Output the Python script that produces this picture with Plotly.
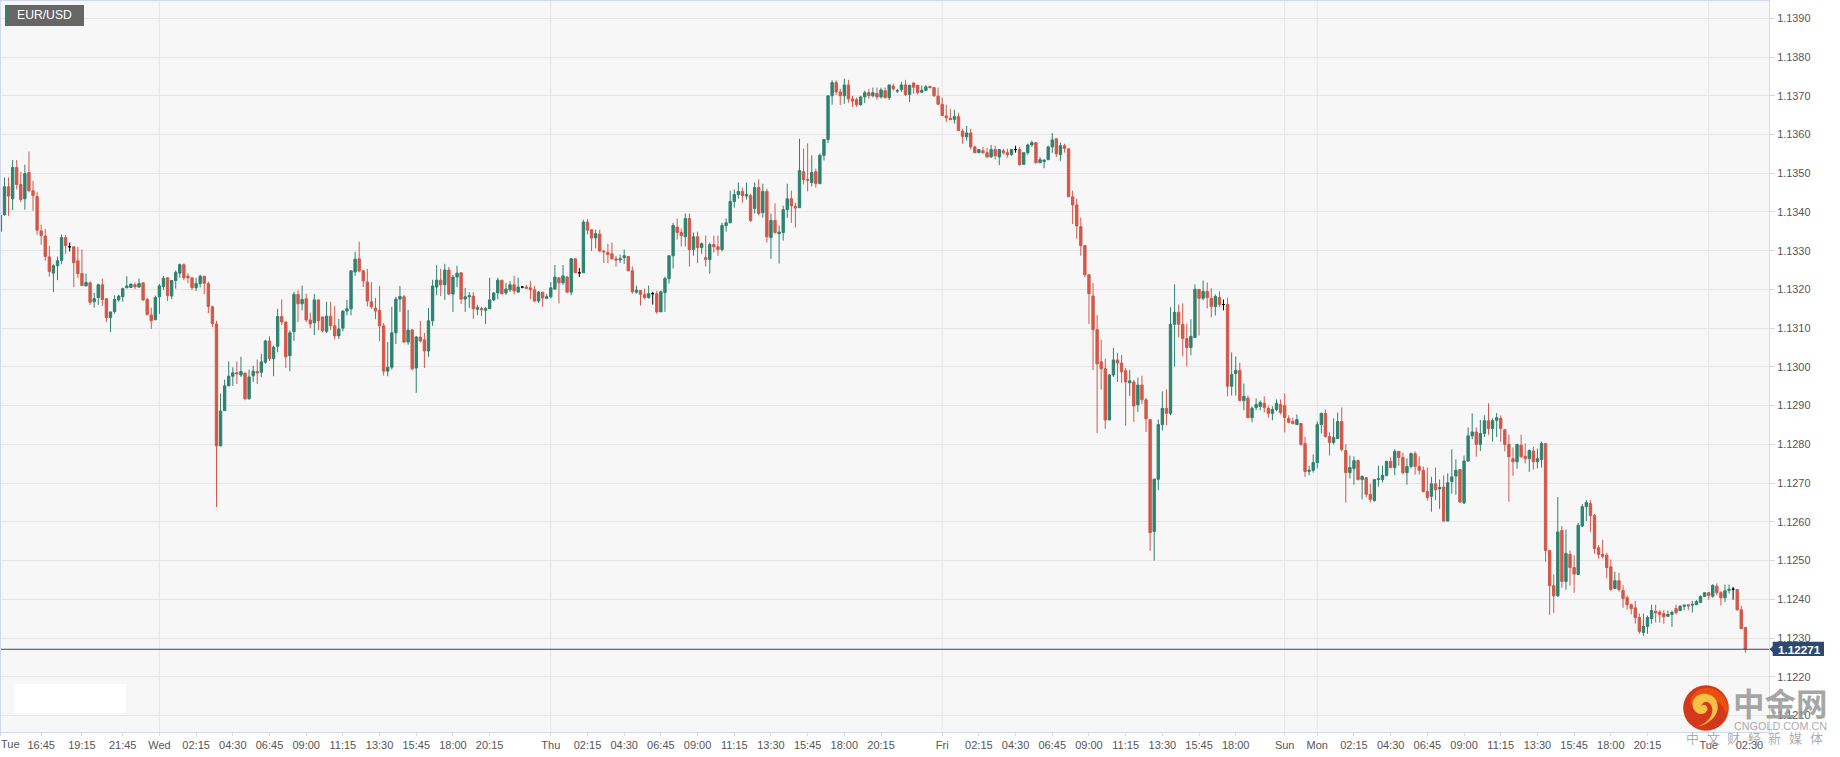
import plotly.graph_objects as go

PIP = 100000.0
open_pts = [
113350,113393,113465,113434,113515,113471,113434,113502,113455,113440,
113351,113338,113284,113242,113261,113275,113334,113310,113310,113274,
113241,113209,113217,113168,113179,113212,113176,113127,113143,113173,
113181,113204,113205,113212,113206,113217,113174,113134,113122,113181,
113207,113230,113183,113223,113242,113264,113234,113230,113204,113215,
113234,113215,113155,113111,112796,112887,112951,112976,112985,112979,
112984,112918,112977,112988,112986,113012,113067,113021,113053,113130,
113116,113029,113091,113187,113163,113176,113121,113114,113173,113129,
113092,113131,113106,113080,113100,113144,113150,113245,113279,113248,
113219,113168,113152,113146,113106,112989,112999,113088,113175,113181,
113064,113095,112997,113077,113070,113041,113119,113206,113224,113212,
113250,113188,113232,113243,113175,113181,113183,113149,113151,113146,
113150,113173,113191,113224,113191,113199,113212,113193,113206,113206,
113204,113199,113170,113193,113177,113181,113201,113230,113217,113232,
113193,113279,113243,113243,113374,113354,113333,113343,113299,113295,
113292,113279,113276,113282,113285,113248,113193,113197,113187,113179,
113189,113189,113142,113192,113228,113287,113361,113347,113336,113383,
113303,113336,113308,113282,113277,113316,113310,113303,113365,113372,
113427,113445,113453,113441,113442,113409,113463,113398,113453,113334,
113378,113344,113347,113406,113434,113415,113411,113504,113484,113476,
113504,113473,113546,113587,113700,113734,113710,113700,113728,113692,
113690,113677,113697,113708,113700,113706,113697,113713,113695,113725,
113712,113716,113728,113703,113733,113727,113709,113714,113724,113721,
113699,113678,113648,113642,113639,113646,113609,113594,113604,113568,
113553,113558,113553,113542,113561,113542,113558,113553,113548,113561,
113561,113523,113553,113573,113579,113527,113530,113535,113568,113589,
113548,113571,113563,113439,113418,113362,113313,113238,113183,113096,
113013,112995,112863,112979,113018,113010,112990,112959,112961,112902,
112953,112915,112864,112575,112710,112851,112893,112880,113110,113141,
113110,113073,113050,113076,113200,113177,113195,113177,113156,113179,
113161,113161,112950,112983,112991,112913,112919,112869,112895,112898,
112906,112893,112880,112890,112903,112900,112867,112859,112851,112854,
112802,112730,112733,112753,112851,112880,112820,112805,112815,112859,
112784,112727,112738,112758,112709,112714,112671,112655,112709,112709,
112720,112756,112740,112782,112766,112727,112743,112776,112743,112733,
112678,112666,112698,112685,112690,112602,112704,112718,112735,112649,
112757,112822,112832,112800,112828,112861,112841,112862,112867,112838,
112800,112763,112755,112798,112769,112763,112783,112755,112761,112802,
112526,112435,112409,112578,112446,112516,112482,112464,112589,112639,
112647,112616,112533,112516,112514,112484,112428,112448,112423,112404,
112386,112378,112353,112314,112330,112350,112369,112367,112363,112356,
112361,112376,112371,112382,112386,112385,112386,112392,112407,112417,
112408,112434,112417,112404,112423,112426,112425,112373,112327]
high_pts = [
113397,113489,113489,113534,113534,113503,113522,113556,113480,113452,
113367,113356,113312,113265,113285,113342,113341,113321,113310,113310,
113303,113241,113221,113191,113215,113228,113176,113142,113185,113186,
113205,113234,113214,113218,113228,113218,113178,113153,113184,113214,
113235,113231,113224,113249,113267,113267,113242,113230,113230,113238,
113235,113220,113158,113119,112931,112967,113014,112999,113014,113026,
112985,112993,113003,113019,113034,113070,113079,113055,113150,113174,
113116,113094,113194,113198,113210,113189,113140,113188,113173,113129,
113168,113168,113157,113124,113146,113173,113248,113297,113323,113250,
113253,113219,113178,113209,113113,113064,113155,113181,113209,113186,
113147,113098,113080,113119,113088,113152,113225,113263,113253,113266,
113258,113237,113261,113243,113204,113193,113193,113160,113155,113155,
113230,113193,113230,113224,113217,113222,113235,113230,113209,113212,
113222,113209,113196,113193,113188,113219,113263,113230,113263,113235,
113281,113280,113255,113380,113382,113354,113354,113354,113302,113318,
113321,113287,113290,113303,113285,113259,113210,113198,113202,113210,
113194,113197,113197,113233,113287,113372,113383,113357,113396,113396,
113347,113349,113321,113339,113321,113339,113339,113372,113383,113455,
113458,113476,113463,113476,113447,113476,113484,113473,113460,113396,
113422,113365,113416,113473,113455,113424,113589,113564,113577,113546,
113512,113551,113587,113700,113740,113740,113718,113744,113741,113700,
113695,113700,113713,113718,113721,113721,113721,113721,113728,113731,
113718,113736,113741,113728,113734,113728,113726,113728,113726,113721,
113721,113695,113677,113666,113664,113656,113615,113622,113615,113571,
113561,113568,113566,113573,113571,113561,113563,113563,113563,113571,
113568,113554,113576,113584,113579,113542,113536,113571,113604,113589,
113579,113576,113563,113455,113434,113385,113315,113238,113217,113134,
113070,113021,112982,113049,113036,113031,112997,112992,112966,112972,
112977,112920,112864,112712,112864,112937,112942,113154,113213,113161,
113164,113112,113123,113213,113200,113223,113218,113203,113187,113195,
113174,113179,113037,113027,113011,112957,112926,112898,112919,112913,
112924,112900,112898,112916,112916,112931,112875,112869,112877,112854,
112820,112745,112774,112859,112882,112890,112831,112867,112882,112895,
112800,112771,112769,112761,112720,112714,112699,112709,112745,112745,
112758,112766,112787,112782,112779,112764,112779,112782,112769,112743,
112740,112716,112740,112709,112720,112725,112787,112761,112735,112771,
112844,112880,112844,112863,112875,112906,112867,112881,112875,112838,
112825,112792,112800,112825,112802,112787,112794,112789,112807,112802,
112526,112464,112664,112589,112580,112526,112514,112597,112646,112656,
112656,112620,112540,112554,112520,112503,112471,112468,112436,112410,
112389,112396,112363,112363,112358,112386,112386,112372,112372,112371,
112371,112386,112385,112386,112386,112396,112398,112410,112417,112418,
112439,112441,112421,112438,112438,112432,112425,112383,112329]
low_pts = [
113298,113390,113390,113405,113458,113426,113406,113451,113403,113341,
113315,113274,113233,113193,113224,113265,113292,113298,113206,113230,
113209,113209,113160,113153,113160,113157,113116,113090,113137,113168,
113168,113204,113205,113201,113205,113170,113133,113098,113120,113137,
113199,113170,113175,113202,113230,113224,113216,113198,113196,113205,
113188,113139,113103,112638,112796,112887,112951,112951,112956,112974,
112914,112915,112961,112956,112974,113008,113015,112976,113038,113108,
112997,112989,113067,113116,113146,113116,113100,113082,113095,113089,
113087,113095,113071,113072,113092,113133,113133,113235,113244,113206,
113156,113150,113123,113067,112978,112976,112993,113059,113142,113062,
113057,112991,112933,113063,112997,113026,113106,113185,113183,113173,
113185,113142,113206,113162,113142,113152,113124,113134,113131,113111,
113150,113170,113175,113186,113186,113193,113187,113193,113203,113203,
113175,113167,113165,113155,113175,113177,113199,113164,113212,113191,
113185,113243,113232,113243,113342,113299,113306,113296,113268,113268,
113277,113259,113268,113266,113248,113189,113189,113158,113174,113176,
113161,113137,113142,113142,113215,113254,113329,113311,113311,113259,
113287,113268,113292,113259,113241,113295,113287,113298,113349,113372,
113411,113434,113424,113432,113374,113396,113391,113385,113321,113279,
113344,113267,113326,113385,113372,113360,113411,113471,113453,113466,
113463,113473,113533,113578,113677,113702,113676,113679,113682,113671,
113671,113674,113681,113692,113696,113690,113693,113693,113689,113713,
113707,113710,113700,113684,113705,113703,113707,113713,113719,113697,
113677,113647,113632,113638,113628,113609,113576,113584,113561,113553,
113553,113550,113540,113540,113535,113521,113548,113540,113545,113553,
113520,113521,113548,113568,113525,113526,113513,113535,113553,113542,
113532,113553,113439,113369,113331,113287,113232,113111,112992,112829,
112941,112840,112863,112974,112961,112959,112848,112925,112858,112884,
112904,112832,112525,112500,112682,112836,112849,112875,113001,113076,
113027,113001,113030,113076,113081,113172,113151,113128,113133,113154,
113146,112924,112926,112926,112913,112888,112867,112857,112888,112888,
112882,112869,112862,112885,112877,112831,112854,112851,112851,112796,
112716,112720,112727,112738,112828,112818,112771,112800,112815,112782,
112650,112712,112696,112707,112658,112663,112650,112652,112691,112702,
112717,112738,112720,112745,112722,112696,112738,112722,112722,112676,
112655,112626,112656,112633,112601,112601,112673,112670,112649,112646,
112755,112813,112768,112783,112819,112825,112807,112819,112807,112782,
112652,112719,112737,112765,112751,112729,112735,112738,112740,112497,
112360,112365,112406,112430,112425,112435,112417,112464,112587,112602,
112574,112518,112505,112505,112454,112422,112426,112420,112378,112373,
112361,112337,112311,112305,112311,112337,112340,112340,112337,112355,
112329,112361,112370,112372,112372,112366,112386,112391,112406,112399,
112404,112410,112384,112393,112415,112399,112371,112323,112262]
close_pts = [
113391,113465,113441,113515,113471,113432,113499,113455,113442,113353,
113339,113285,113246,113261,113274,113334,113313,113310,113269,113241,
113210,113218,113167,113176,113212,113174,113127,113142,113174,113183,
113202,113209,113214,113207,113215,113173,113135,113119,113179,113209,
113229,113184,113223,113244,113264,113230,113230,113205,113215,113234,
113216,113156,113112,112796,112886,112951,112976,112985,112982,112988,
112918,112974,112989,112984,113013,113067,113021,113051,113130,113116,
113026,113088,113187,113163,113174,113121,113111,113173,113119,113093,
113131,113106,113080,113098,113144,113150,113248,113278,113248,113222,
113170,113155,113144,113106,112989,112999,113088,113175,113182,113064,
113095,112995,113077,113067,113041,113119,113209,113224,113212,113250,
113188,113232,113242,113175,113181,113184,113150,113154,113147,113151,
113173,113191,113224,113189,113201,113212,113196,113206,113206,113203,
113199,113170,113193,113178,113181,113204,113232,113217,113235,113193,
113279,113243,113243,113374,113353,113333,113344,113299,113297,113290,
113279,113276,113279,113287,113248,113194,113198,113187,113179,113189,
113189,113142,113194,113228,113287,113365,113347,113339,113383,113303,
113336,113308,113318,113277,113316,113310,113303,113365,113372,113427,
113445,113453,113442,113445,113378,113463,113396,113453,113336,113378,
113347,113348,113406,113434,113416,113410,113507,113484,113482,113502,
113473,113546,113587,113700,113734,113710,113700,113728,113692,113686,
113677,113697,113708,113700,113708,113697,113715,113695,113728,113718,
113713,113728,113703,113727,113722,113708,113714,113723,113721,113700,
113678,113649,113643,113638,113646,113610,113595,113604,113568,113553,
113561,113553,113542,113561,113545,113561,113553,113548,113561,113561,
113522,113553,113573,113579,113527,113535,113534,113568,113586,113550,
113571,113564,113439,113418,113364,113313,113238,113189,113096,113008,
112995,112863,112979,113018,113010,112987,112961,112964,112899,112953,
112915,112866,112572,112710,112851,112893,112880,113110,113141,113110,
113073,113050,113079,113200,113177,113195,113179,113156,113182,113161,
113161,112950,112980,112991,112913,112924,112869,112893,112903,112908,
112895,112880,112890,112906,112882,112869,112857,112854,112864,112800,
112730,112733,112753,112851,112880,112820,112805,112818,112859,112787,
112727,112740,112758,112709,112717,112671,112658,112709,112711,112720,
112756,112740,112782,112766,112727,112743,112776,112743,112733,112678,
112663,112698,112683,112689,112602,112701,112716,112733,112651,112757,
112822,112832,112800,112828,112861,112841,112861,112869,112841,112800,
112768,112755,112800,112768,112763,112784,112755,112763,112802,112526,
112435,112409,112574,112446,112518,112482,112465,112591,112639,112650,
112616,112531,112516,112511,112482,112425,112448,112425,112402,112386,
112376,112353,112317,112330,112353,112371,112365,112361,112355,112361,
112366,112366,112382,112385,112383,112387,112394,112407,112417,112410,
112436,112417,112404,112422,112426,112426,112373,112324,112271]

# x-axis labels: 15-minute candle index -> text
tick_index = [0,10,20,30,39,48,57,66,75,84,93,102,111,120,135,144,153,162,171,180,189,198,207,216,
              231,240,249,258,267,276,285,294,303,315,323,332,341,350,359,368,377,386,395,404,419,429]
tick_text = ["","16:45","19:15","21:45","Wed","02:15","04:30","06:45","09:00","11:15","13:30","15:45","18:00","20:15",
             "Thu","02:15","04:30","06:45","09:00","11:15","13:30","15:45","18:00","20:15",
             "Fri","02:15","04:30","06:45","09:00","11:15","13:30","15:45","18:00","Sun",
             "Mon","02:15","04:30","06:45","09:00","11:15","13:30","15:45","18:00","20:15","Tue","02:30"]
day_index = [39,135,231,315,323,419]
price_ticks = [1.1210,1.1220,1.1230,1.1240,1.1250,1.1260,1.1270,1.1280,1.1290,1.1300,1.1310,
               1.1320,1.1330,1.1340,1.1350,1.1360,1.1370,1.1380,1.1390]
last_price = 1.12271
symbol = "EUR/USD"

UP, DOWN = "#2e8270", "#d2584a"
W, H = 1840, 757
PW, PH = 1769, 732
AX = "#d3d8ec"
GRID = "#e6e6e6"

def fx(px):
    return px / PW
def fy(py):
    return 1 - py / PH

def trace(kind, color):
    idx = [i for i in range(len(open_pts)) if
           (close_pts[i] > open_pts[i] if kind > 0 else close_pts[i] < open_pts[i] if kind < 0 else close_pts[i] == open_pts[i])]
    side = dict(line=dict(color=color, width=1), fillcolor=color)
    return go.Candlestick(
        x=idx,
        open=[open_pts[i] / PIP for i in idx], high=[high_pts[i] / PIP for i in idx],
        low=[low_pts[i] / PIP for i in idx], close=[close_pts[i] / PIP for i in idx],
        increasing=side, decreasing=side, whiskerwidth=0, showlegend=False, hoverinfo="skip")

fig = go.Figure([trace(-1, DOWN), trace(1, UP), trace(0, "#000000")])

shapes = []
for d in day_index:
    shapes.append(dict(type="line", layer="below", xref="x", yref="paper", x0=d, x1=d, y0=0, y1=1,
                       line=dict(color=GRID, width=1)))
shapes.append(dict(type="line", xref="paper", yref="y", x0=0, x1=1, y0=last_price, y1=last_price,
                   line=dict(color="#2c4a70", width=1)))
def rect(x0, y0, x1, y1, color):
    shapes.append(dict(type="rect", xref="paper", yref="paper", x0=fx(x0), x1=fx(x1), y0=fy(y0), y1=fy(y1),
                       fillcolor=color, line=dict(width=0), layer="above"))
rect(14, 684, 126, 712.7, "#ffffff")
rect(5, 5, 84, 26, "rgba(85,85,85,0.9)")
rect(5, 5, 7, 26, UP)
rect(1772.7, 641.7, 1824, 656, "#2c4a70")
rect(0, 0, 1, PH, AX)
rect(0, 0, PW, 1, AX)
# pointer of the price label and the logo, in plot fractions
def path(points, color):
    d = "M" + " L".join(f"{fx(a):.5f},{fy(b):.5f}" for a, b in points) + " Z"
    shapes.append(dict(type="path", xref="paper", yref="paper", path=d, fillcolor=color, line=dict(width=0)))
path([(1769.5, 649.3), (1773, 646), (1773, 652.5)], "#2c4a70")
cx, cy, r = 1706, 708, 22.8
shapes.append(dict(type="circle", xref="paper", yref="paper", x0=fx(cx-r), x1=fx(cx+r), y0=fy(cy-r), y1=fy(cy+r),
                   fillcolor="#d4381a", line=dict(width=0)))
def bez(pts, color):
    s = f"M{fx(pts[0][0]):.5f},{fy(pts[0][1]):.5f} "
    for k in range(1, len(pts), 3):
        s += "C" + " ".join(f"{fx(a):.5f},{fy(b):.5f}" for a, b in pts[k:k+3]) + " "
    shapes.append(dict(type="path", xref="paper", yref="paper", path=s + "Z", fillcolor=color, line=dict(width=0)))
bez([(1690, 705), (1690, 690), (1705, 685), (1716, 690), (1726, 695), (1730, 706), (1727, 715),
     (1722, 700), (1708, 692), (1690, 705)], "#e8500f")
bez([(1696, 727), (1712, 724), (1722, 712), (1716, 700), (1711, 692), (1697, 691), (1693, 701),
     (1690, 710), (1700, 718), (1706, 712), (1710, 708), (1705, 702), (1701, 706), (1706, 696),
     (1716, 706), (1711, 716), (1708, 722), (1702, 725), (1696, 727)], "#f6c244")

def note(text, x, y, size, color, anchor="left", family="Liberation Sans", weight=None):
    f = dict(size=size, color=color, family=family)
    if weight:
        f["weight"] = weight
    return dict(text=text, xref="paper", yref="paper", x=fx(x), y=fy(y), xanchor=anchor, yanchor="middle",
                showarrow=False, font=f, borderpad=0, borderwidth=0)

notes = [
    note(symbol, 16.5, 15.5, 12.2, "#ffffff"),
    note("Tue", 0.5, 744, 11, "#555555"),
    note(f"{last_price:.5f}", 1777.5, 649.5, 11.7, "#ffffff", weight=700),
    note("中金网", 1733, 702, 31.5, "rgba(150,150,150,0.85)", family="Noto Sans CJK SC", weight=700),
    note("CNGOLD.COM.CN", 1780.5, 725.5, 10.8, "rgba(165,165,165,0.95)", anchor="center"),
]
for k, ch in enumerate("中文财经新媒体"):
    notes.append(note(ch, 1692.5 + k * 20.6, 738, 13, "rgba(150,150,150,0.8)", anchor="center",
                      family="Noto Sans CJK SC"))

fig.update_layout(
    width=W, height=H, autosize=False,
    margin=dict(l=0, r=W - PW, t=0, b=H - PH, autoexpand=False),
    paper_bgcolor="#ffffff", plot_bgcolor="#f7f7f7",
    boxmode="overlay", boxgap=0.42, boxgroupgap=0,
    hovermode=False, dragmode=False,
    shapes=shapes, annotations=notes,
    xaxis=dict(range=[-0.1, 433.8], rangeslider=dict(visible=False), tickmode="array",
               tickvals=tick_index, ticktext=tick_text, ticks="outside", ticklen=3, tickcolor=AX, tickangle=0,
               showgrid=False, zeroline=False, showline=True, linecolor=AX, linewidth=1, mirror=True,
               tickfont=dict(family="Liberation Sans", size=11, color="#555555")),
    yaxis=dict(range=[1.120574, 1.139472], side="right", tickmode="array",
               tickvals=price_ticks, ticktext=[f"{p:.4f}" for p in price_ticks],
               ticks="outside", ticklen=5, tickcolor=AX, gridcolor=GRID, gridwidth=1,
               zeroline=False, showline=True, linecolor=AX, linewidth=1, mirror=True,
               tickfont=dict(family="Liberation Sans", size=10.9, color="#555555")),
)
fig.write_html("out.html", config=dict(displayModeBar=False),
               post_script="document.body.style.margin='0';document.body.style.overflow='hidden';")
